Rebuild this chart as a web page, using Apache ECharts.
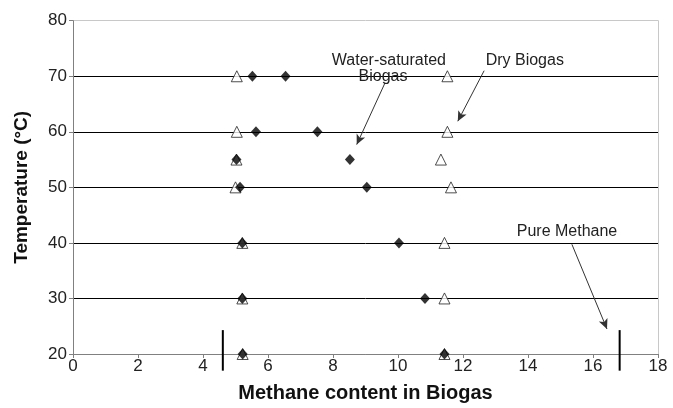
<!DOCTYPE html>
<html>
<head>
<meta charset="utf-8">
<script src="https://cdn.jsdelivr.net/npm/echarts@6/dist/echarts.min.js"></script>
<style>
  html, body { margin: 0; padding: 0; background: #fff; }
  #chart { width: 673px; height: 408px; }
</style>
</head>
<body>
<div id="chart"></div>
<script>
// ---- Data ----
var xTicks = [0, 2, 4, 6, 8, 10, 12, 14, 16, 18];
var yTicks = [20, 30, 40, 50, 60, 70, 80];

// Dry Biogas (open triangles): [methane content, temperature]
var dryBiogas = [
  [5.04, 70], [11.52, 70],
  [5.04, 60], [11.52, 60],
  [5.03, 55], [11.32, 55],
  [5.00, 50], [11.63, 50],
  [5.21, 40], [11.43, 40],
  [5.21, 30], [11.43, 30],
  [5.22, 20], [11.43, 20]
];

// Water-saturated Biogas (filled diamonds)
var wetBiogas = [
  [5.52, 70], [6.54, 70],
  [5.63, 60], [7.52, 60],
  [5.03, 55], [8.52, 55],
  [5.14, 50], [9.04, 50],
  [5.21, 40], [10.03, 40],
  [5.21, 30], [10.83, 30],
  [5.22, 20], [11.43, 20]
];

// Pure methane limits (vertical bars)
var pureLow = [[4.61, 24.3], [4.61, 17.0]];
var pureHigh = [[16.82, 24.3], [16.82, 17.0]];

// Annotation texts and arrows (data coordinates)
var annotationTexts = [
  { name: 'Water-saturated', coord: [9.72, 72.8] },
  { name: 'Biogas', coord: [9.54, 70.0] },
  { name: 'Dry Biogas', coord: [13.9, 72.8] },
  { name: 'Pure Methane', coord: [15.2, 42.0] }
];
var annotationArrows = [
  [[9.6, 68.8], [8.73, 57.7]],
  [[12.65, 71.0], [11.84, 61.9]],
  [[15.35, 39.75], [16.43, 24.5]]
];

// ---- Chart ----
var font = 'Liberation Sans, Arial, Helvetica, sans-serif';
var chart = echarts.init(document.getElementById('chart'), null, { renderer: 'canvas' });

var option = {
  animation: false,
  backgroundColor: '#fff',
  grid: { left: 73, right: 15, top: 20.7, bottom: 53, containLabel: false },
  xAxis: {
    type: 'value', min: xTicks[0], max: xTicks[xTicks.length - 1], interval: 2,
    name: 'Methane content in Biogas', nameLocation: 'middle', nameGap: 29,
    nameTextStyle: { fontFamily: font, fontSize: 20, fontWeight: 'bold', color: '#111' },
    axisLine: { show: true, lineStyle: { color: '#808080', width: 1 } },
    axisTick: { show: true, inside: false, length: 4, lineStyle: { color: '#808080' } },
    axisLabel: { fontFamily: font, fontSize: 17, color: '#222', margin: 4 },
    splitLine: { show: false }
  },
  yAxis: [{
    type: 'value', min: yTicks[0], max: yTicks[yTicks.length - 1], interval: 10,
    name: 'Temperature (°C)', nameLocation: 'middle', nameGap: 42, nameRotate: 90,
    nameTextStyle: { fontFamily: font, fontSize: 19, fontWeight: 'bold', color: '#111' },
    axisLine: { show: true, lineStyle: { color: '#808080', width: 1 } },
    axisTick: { show: true, inside: false, length: 4, lineStyle: { color: '#808080' } },
    axisLabel: { fontFamily: font, fontSize: 17, color: '#222', margin: 6 },
    splitLine: { show: true, lineStyle: { color: ['#808080', '#000', '#000', '#000', '#000', '#000', '#c8c8c8'], width: 1 } }
  }, {
    type: 'value', min: yTicks[0], max: yTicks[yTicks.length - 1], interval: 10,
    position: 'right',
    axisLine: { show: true, lineStyle: { color: '#c8c8c8', width: 1 } },
    axisTick: { show: false }, axisLabel: { show: false }, splitLine: { show: false }
  }],
  series: [
    {
      name: 'Dry Biogas', type: 'scatter', data: dryBiogas,
      symbol: 'triangle', symbolSize: 11,
      itemStyle: { color: '#fff', borderColor: '#222', borderWidth: 1 }, z: 3
    },
    {
      name: 'Water-saturated Biogas', type: 'scatter', data: wetBiogas,
      symbol: 'diamond', symbolSize: [10, 11],
      itemStyle: { color: '#000' }, z: 4
    },
    {
      type: 'line', data: pureLow, showSymbol: false, symbol: 'none', clip: false,
      lineStyle: { color: '#000', width: 2 }, z: 5
    },
    {
      type: 'line', data: pureHigh, showSymbol: false, symbol: 'none', clip: false,
      lineStyle: { color: '#000', width: 2 }, z: 5,
      markPoint: {
        symbol: 'rect', symbolSize: 0, silent: true,
        label: { show: true, position: 'inside', formatter: '{b}', fontFamily: font, fontSize: 16, color: '#222' },
        data: annotationTexts.map(function (a) { return { name: a.name, coord: a.coord }; })
      },
      markLine: {
        silent: true, symbol: ['none', 'arrow'], symbolSize: [7, 10],
        label: { show: false },
        lineStyle: { color: '#333', width: 1, type: 'solid' },
        data: annotationArrows.map(function (a) { return [{ coord: a[0] }, { coord: a[1] }]; })
      }
    }
  ]
};
chart.setOption(option);
</script>
</body>
</html>
